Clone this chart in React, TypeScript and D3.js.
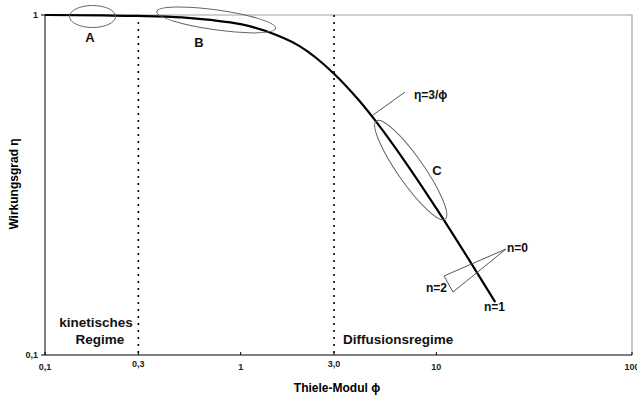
import React, { useRef, useEffect } from "react";
import * as d3 from "d3";

const font = "'Liberation Sans', Arial, sans-serif";

const phi = [0.1, 0.2, 0.3, 0.5, 0.7, 1, 1.5, 2, 3, 4, 5, 7, 10, 15, 20];
const eta = [1.0, 0.997, 0.994, 0.984, 0.967, 0.94, 0.876, 0.81, 0.672, 0.563, 0.48, 0.367, 0.27, 0.187, 0.143];

const xTicks = [0.1, 0.3, 1, 3, 10, 100];
const xTickLabels = ["0,1", "0,3", "1", "3,0", "10", "100"];
const yTicks = [0.1, 1];
const yTickLabels = ["0,1", "1"];
const regimeBounds = [0.3, 3];

export default function App() {
  const ref = useRef<SVGSVGElement>(null);

  useEffect(() => {
    const width = 637;
    const height = 399;
    const m = { left: 45, right: 5, top: 15, bottom: 44 };

    const svg = d3.select(ref.current);
    svg.selectAll("*").remove();
    svg.attr("width", width).attr("height", height).style("background", "#fff");

    const x = d3.scaleLog().domain([0.1, 100]).range([m.left, width - m.right]);
    const y = d3.scaleLog().domain([0.1, 1]).range([height - m.bottom, m.top]);

    const x0 = x(0.1), x1 = x(100), y0 = y(0.1), y1 = y(1);

    // Rahmen oben/rechts grau
    svg.append("path")
      .attr("d", `M${x0},${y1}H${x1}V${y0}`)
      .attr("fill", "none")
      .attr("stroke", "#a0a0a0")
      .attr("stroke-width", 1.2);

    // Achsen
    svg.append("line").attr("x1", x0).attr("x2", x0).attr("y1", y1).attr("y2", y0)
      .attr("stroke", "#000").attr("stroke-width", 1);
    svg.append("line").attr("x1", x0).attr("x2", x1).attr("y1", y0).attr("y2", y0)
      .attr("stroke", "#000").attr("stroke-width", 1);

    // x ticks
    xTicks.forEach((t, i) => {
      svg.append("line").attr("x1", x(t)).attr("x2", x(t)).attr("y1", y0 - 3).attr("y2", y0)
        .attr("stroke", "#000");
      svg.append("text")
        .attr("x", x(t))
        .attr("y", y0 + (i === 1 || i === 3 ? 12 : 15))
        .attr("text-anchor", "middle")
        .attr("font-family", font)
        .attr("font-size", 9)
        .attr("font-weight", "bold")
        .attr("fill", "#222")
        .text(xTickLabels[i]);
    });

    // y ticks
    yTicks.forEach((t, i) => {
      svg.append("line").attr("x1", x0 - 4).attr("x2", x0).attr("y1", y(t)).attr("y2", y(t))
        .attr("stroke", "#000");
      svg.append("text")
        .attr("x", x0 - 7)
        .attr("y", y(t) + 3)
        .attr("text-anchor", "end")
        .attr("font-family", font)
        .attr("font-size", 9)
        .attr("font-weight", "bold")
        .attr("fill", "#222")
        .text(yTickLabels[i]);
    });

    // Achsentitel
    svg.append("text")
      .attr("x", 337)
      .attr("y", 392)
      .attr("text-anchor", "middle")
      .attr("font-family", font)
      .attr("font-size", 12)
      .attr("font-weight", "bold")
      .text("Thiele-Modul ϕ");

    svg.append("text")
      .attr("transform", "translate(18,184) rotate(-90)")
      .attr("text-anchor", "middle")
      .attr("font-family", font)
      .attr("font-size", 12)
      .attr("font-weight", "bold")
      .text("Wirkungsgrad η");

    // gestrichelte Regimegrenzen
    regimeBounds.forEach(b => {
      svg.append("line")
        .attr("x1", x(b)).attr("x2", x(b))
        .attr("y1", y1).attr("y2", y0)
        .attr("stroke", "#000")
        .attr("stroke-width", 1.6)
        .attr("stroke-dasharray", "2,5");
    });

    // Kurve
    const pts = phi.map((p, i) => [p, eta[i]] as [number, number]);
    const line = d3.line<[number, number]>()
      .x(d => x(d[0]))
      .y(d => y(d[1]))
      .curve(d3.curveMonotoneX);
    svg.append("path")
      .attr("d", line(pts))
      .attr("fill", "none")
      .attr("stroke", "#000")
      .attr("stroke-width", 2.2);

    // Ellipsen A, B, C
    const ell = (cx: number, cy: number, rx: number, ry: number, rot: number) =>
      svg.append("ellipse")
        .attr("cx", cx).attr("cy", cy).attr("rx", rx).attr("ry", ry)
        .attr("transform", `rotate(${rot},${cx},${cy})`)
        .attr("fill", "none")
        .attr("stroke", "#666")
        .attr("stroke-width", 1);
    ell(x(0.175), y(1) + 1.5, 23, 11, 0);
    ell(x(0.75), y(0.967), 60, 10, 8);
    ell(x(7.4), y(0.35), 60, 13, 55);

    const label = (tx: number, ty: number, s: string, anchor = "middle", size = 12) =>
      svg.append("text")
        .attr("x", tx).attr("y", ty)
        .attr("text-anchor", anchor)
        .attr("font-family", font)
        .attr("font-size", size)
        .attr("font-weight", "bold")
        .attr("fill", "#111")
        .text(s);

    label(90, 42, "A", "middle", 13);
    label(199, 47, "B", "middle", 13);
    label(437, 175, "C", "middle", 13);

    // eta = 3/phi
    svg.append("line")
      .attr("x1", 373).attr("y1", 115).attr("x2", 405).attr("y2", 92)
      .attr("stroke", "#555").attr("stroke-width", 1);
    label(414, 99, "η=3/ϕ", "start");

    // n=0 / n=2 Dreieck
    svg.append("path")
      .attr("d", "M506,249L444,276L453,292Z")
      .attr("fill", "none")
      .attr("stroke", "#555")
      .attr("stroke-width", 1);
    label(507, 252, "n=0", "start");
    label(426, 292, "n=2", "start");
    label(484, 311, "n=1", "start");

    // Regime-Beschriftung
    label(96, 327, "kinetisches", "middle", 13.5);
    label(100, 344, "Regime", "middle", 13.5);
    label(343, 344, "Diffusionsregime", "start", 13.5);
  }, []);

  return (
    <div style={{ position: "absolute", left: 0, top: 0 }}>
      <svg ref={ref} width={637} height={399} style={{ display: "block" }} />
    </div>
  );
}
